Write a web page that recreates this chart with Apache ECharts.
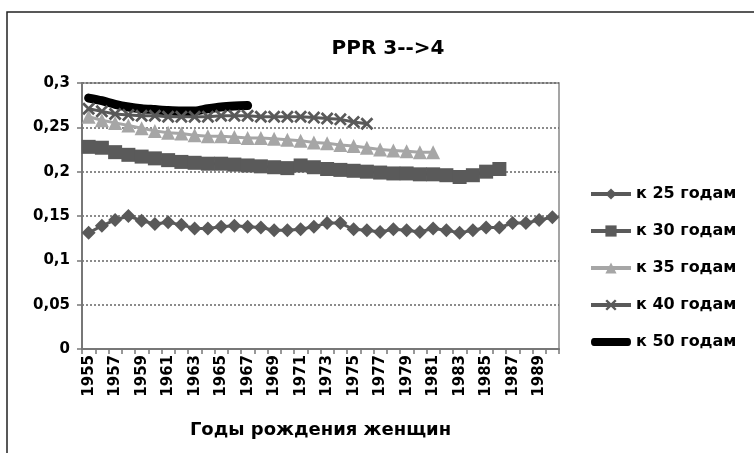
<!DOCTYPE html>
<html>
<head>
<meta charset="utf-8">
<script src="https://cdn.jsdelivr.net/npm/echarts@6/dist/echarts.min.js"></script>
<style>
  html, body { margin: 0; padding: 0; background: #fff; }
  #chart { width: 754px; height: 453px; }
</style>
</head>
<body>
<div id="chart"></div>
<script>
// birth years of women
var years = ['1955', '1956', '1957', '1958', '1959', '1960', '1961', '1962', '1963', '1964',
  '1965', '1966', '1967', '1968', '1969', '1970', '1971', '1972', '1973', '1974',
  '1975', '1976', '1977', '1978', '1979', '1980', '1981', '1982', '1983', '1984',
  '1985', '1986', '1987', '1988', '1989', '1990']

var by25 = [0.131, 0.139, 0.1455, 0.150, 0.1447, 0.141, 0.143, 0.140, 0.136, 0.136,
  0.138, 0.139, 0.138, 0.137, 0.134, 0.134, 0.135, 0.138, 0.142, 0.142,
  0.135, 0.134, 0.132, 0.135, 0.134, 0.132, 0.136, 0.134, 0.131, 0.134,
  0.137, 0.137, 0.142, 0.142, 0.1455, 0.1485]
var by30 = [0.228, 0.227, 0.222, 0.219, 0.217, 0.215, 0.213, 0.211, 0.210, 0.209,
  0.209, 0.208, 0.207, 0.206, 0.205, 0.204, 0.207, 0.205, 0.203, 0.202,
  0.201, 0.200, 0.199, 0.198, 0.198, 0.197, 0.197, 0.196, 0.194, 0.196,
  0.200, 0.203]
var by35 = [0.262, 0.258, 0.255, 0.252, 0.249, 0.246, 0.244, 0.243, 0.241, 0.240,
  0.240, 0.239, 0.238, 0.238, 0.237, 0.236, 0.235, 0.233, 0.232, 0.230,
  0.229, 0.227, 0.225, 0.224, 0.223, 0.222, 0.222]
var by40 = [0.271, 0.268, 0.265, 0.264, 0.263, 0.263, 0.262, 0.262, 0.262, 0.262,
  0.263, 0.263, 0.263, 0.262, 0.262, 0.262, 0.262, 0.261, 0.260, 0.259,
  0.256, 0.254]
var by50 = [0.283, 0.280, 0.276, 0.273, 0.271, 0.270, 0.269, 0.2685, 0.2685, 0.271,
  0.273, 0.274, 0.2745]

var seriesNames = ['к 25 годам', 'к 30 годам', 'к 35 годам', 'к 40 годам', 'к 50 годам']

var crossPath = 'path://M0,1.5L1.5,0L5,3.5L8.5,0L10,1.5L6.5,5L10,8.5L8.5,10L5,6.5L1.5,10L0,8.5L3.5,5Z'
// thick bar for the legend of the last series; slivers at top/bottom keep the box 40x14
var barIcon = 'path://M0,0L40,0L40,0.01L0,0.01Z M3,3L37,3Q40,3 40,7Q40,11 37,11L3,11Q0,11 0,7Q0,3 3,3Z M0,13.99L40,13.99L40,14L0,14Z'
var fontFam = 'DejaVu Sans, sans-serif'

var chart = echarts.init(document.getElementById('chart'))

var option = {
  backgroundColor: '#fff',
  animation: false,
  graphic: [{
    type: 'rect',
    shape: { x: 7, y: 12, width: 800, height: 500 },
    style: { fill: 'none', stroke: '#222', lineWidth: 1.5 },
    silent: true
  }],
  title: {
    text: 'PPR 3-->4',
    left: 383,
    top: 34,
    textAlign: 'center',
    textStyle: { fontFamily: fontFam, fontWeight: 'bold', fontSize: 20, color: '#000' }
  },
  legend: {
    orient: 'vertical',
    left: 584,
    top: 181,
    itemWidth: 40,
    itemHeight: 14,
    itemGap: 21,
    lineStyle: { width: 4 },
    textStyle: { fontFamily: fontFam, fontWeight: 'bold', fontSize: 16, color: '#000' },
    data: [seriesNames[0], seriesNames[1], seriesNames[2], seriesNames[3],
      { name: seriesNames[4], icon: barIcon }]
  },
  grid: {
    left: 82,
    right: 195,
    top: 83,
    bottom: 104,
    show: true,
    borderColor: '#888',
    borderWidth: 1.5
  },
  xAxis: {
    type: 'category',
    data: years,
    boundaryGap: true,
    name: 'Годы рождения женщин',
    nameLocation: 'middle',
    nameGap: 72,
    nameTextStyle: { fontFamily: fontFam, fontWeight: 'bold', fontSize: 18, color: '#000' },
    axisLine: { lineStyle: { color: '#777', width: 2 } },
    axisTick: { show: true, interval: 0, length: 5, lineStyle: { color: '#777', width: 1.5 } },
    axisLabel: {
      interval: 1,
      rotate: 90,
      margin: 6,
      fontFamily: fontFam,
      fontWeight: 'bold',
      fontSize: 15,
      color: '#000'
    },
    splitLine: { show: false }
  },
  yAxis: {
    type: 'value',
    min: 0,
    max: 0.3,
    interval: 0.05,
    axisLine: { show: true, lineStyle: { color: '#777', width: 2 } },
    axisTick: { show: true, length: 5, lineStyle: { color: '#777', width: 1.5 } },
    axisLabel: {
      margin: 12,
      fontFamily: fontFam,
      fontWeight: 'bold',
      fontSize: 15,
      color: '#000',
      formatter: function(v) {
        return String(Math.round(v * 100) / 100).replace('.', ',')
      }
    },
    splitLine: { show: true, lineStyle: { color: '#666', type: [2, 2], width: 1.5 } }
  },
  series: [{
    name: seriesNames[0],
    type: 'line',
    data: by25,
    showAllSymbol: true,
    symbol: 'diamond',
    symbolSize: 14,
    lineStyle: { color: '#595959', width: 3 },
    itemStyle: { color: '#595959' }
  }, {
    name: seriesNames[1],
    type: 'line',
    data: by30,
    showAllSymbol: true,
    symbol: 'rect',
    symbolSize: 14,
    lineStyle: { color: '#5a5a5a', width: 3 },
    itemStyle: { color: '#5a5a5a' }
  }, {
    name: seriesNames[2],
    type: 'line',
    data: by35,
    showAllSymbol: true,
    symbol: 'triangle',
    symbolSize: 14,
    lineStyle: { color: '#a6a6a6', width: 3 },
    itemStyle: { color: '#a6a6a6' }
  }, {
    name: seriesNames[3],
    type: 'line',
    data: by40,
    showAllSymbol: true,
    symbol: crossPath,
    symbolSize: 13,
    lineStyle: { color: '#595959', width: 3 },
    itemStyle: { color: '#595959' }
  }, {
    name: seriesNames[4],
    type: 'line',
    data: by50,
    symbol: 'none',
    smooth: 0.3,
    lineStyle: { color: '#000', width: 9, cap: 'round' },
    itemStyle: { color: '#000' }
  }]
}

chart.setOption(option)
</script>
</body>
</html>
